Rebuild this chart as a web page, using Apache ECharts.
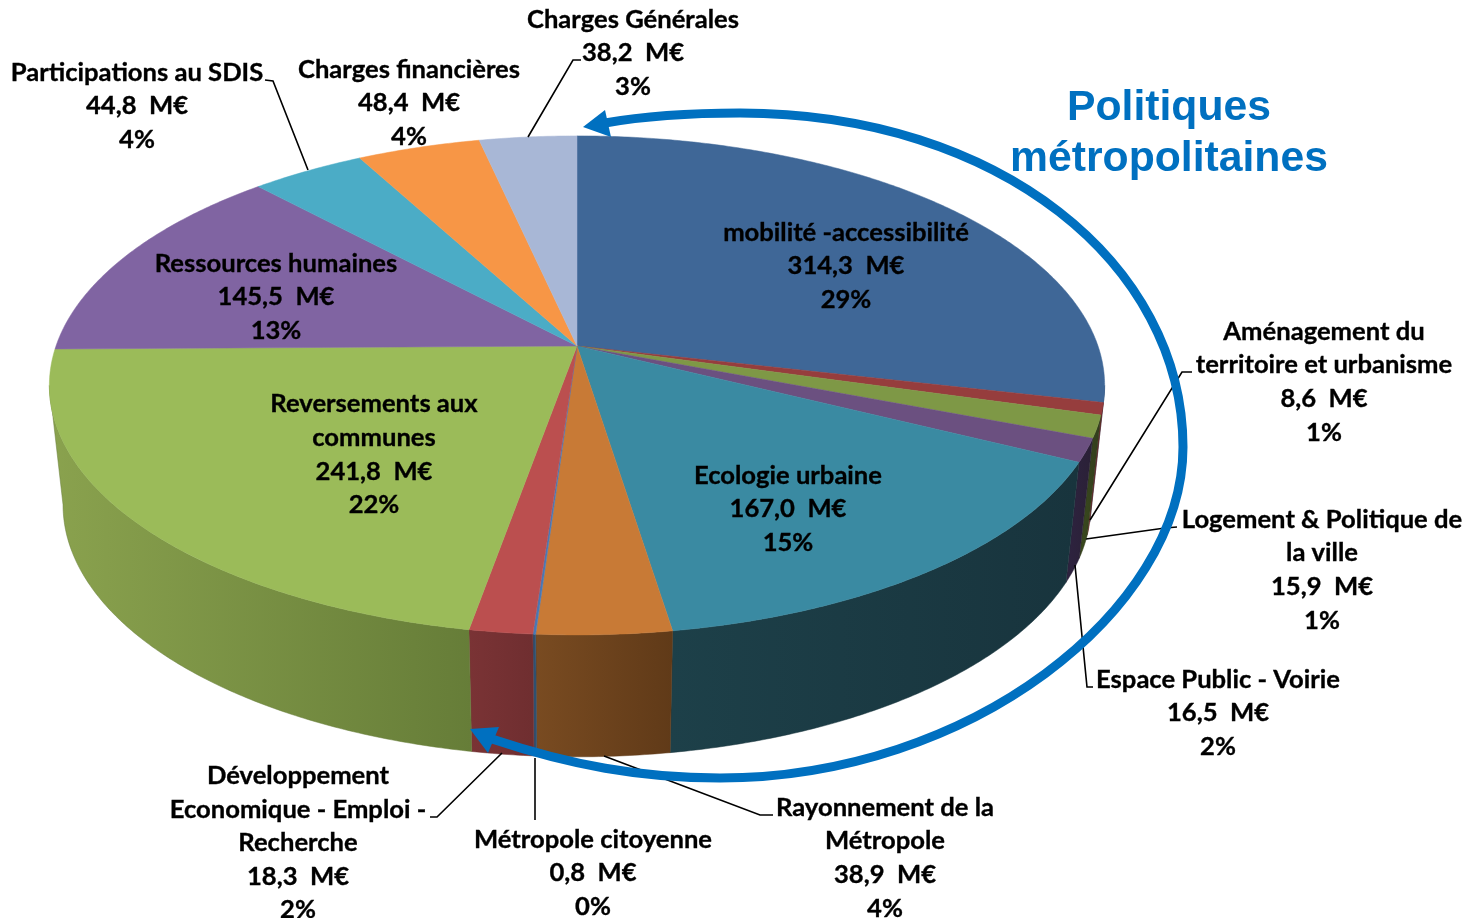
<!DOCTYPE html>
<html><head><meta charset="utf-8">
<style>html,body{margin:0;padding:0;background:#fff}#c{width:1466px;height:918px}</style>
<script src="https://cdn.jsdelivr.net/npm/echarts@6/dist/echarts.min.js"></script>
</head><body><div id="c"></div>
<script>
const categories = ["mobilité -accessibilité","Aménagement du\nterritoire et urbanisme","Logement & Politique de\nla ville","Espace Public - Voirie","Ecologie urbaine","Rayonnement de la\nMétropole","Métropole citoyenne","Développement\nEconomique - Emploi -\nRecherche","Reversements aux\ncommunes","Ressources humaines","Participations au SDIS","Charges financières","Charges Générales"];
const amounts = [314.3,8.6,15.9,16.5,167.0,38.9,0.8,18.3,241.8,145.5,44.8,48.4,38.2];
const percents = [29,1,1,2,15,4,0,2,22,13,4,4,3];
const topColors = ["#3f6797","#963d3d","#7e9846","#6b5080","#3a8aa2","#c87a36","#4a78b4","#bb4f4f","#9bbb59","#8064a2","#4bacc6","#f79646","#a8b7d6"];
const wallLeft = ["#2a4464","#6b2b2b","#3a4a1e","#2e2340","#1d4049","#794b21","#2f5070","#7a3335","#8aa24e","#55426c","#327385","#a5642e","#6f7a90"];
const wallRight = ["#2a4464","#6b2b2b","#323c1c","#2a2036","#18343d","#603a18","#2f5070","#6f2e30","#667d38","#55426c","#327385","#a5642e","#6f7a90"];
const labelCenters = [[846,266],[1324,382],[1322,570],[1218,713],[788,509],[885,858],[593,873],[298,843],[374,454.5],[276,297],[137,106],[409,103],[633,53]];

const total = amounts.reduce((a,b)=>a+b,0);
const starts = []; amounts.reduce((acc,v,i)=>{starts[i]=acc;return acc+v;},0);
const K = 0.158;
const TOP = {cx:577, cy:346, a:521, b:243.3};
const BOTTOM = {cx:577, cy:465, a:507.5, b:245.7};
// rim angles where the side wall meets the outline of the disc
const VIS0 = Math.acos(-K)/(2*Math.PI), VIS1 = 1-VIS0;
function rim(s, frac){
  const t = frac*2*Math.PI, u = Math.sin(t), v = -Math.cos(t), d = 1-K*v;
  return [s.cx+s.a*u/d, s.cy+s.b*v/d];
}
function arcPts(s, f0, f1){
  const n = Math.max(2, Math.ceil((f1-f0)*720)), p = [];
  for(let i=0;i<=n;i++) p.push(rim(s, f0+(f1-f0)*i/n));
  return p;
}
const rows = amounts.map((v,i)=>({value:[v,starts[i],i]}));
function renderWall(p, api){
  const v=api.value(0), st=api.value(1), i=api.value(2);
  const f0=Math.max(st/total,VIS0), f1=Math.min((st+v)/total,VIS1);
  if(f1<=f0) return null;
  const pts=arcPts(TOP,f0,f1).concat(arcPts(BOTTOM,f0,f1).reverse());
  return {type:'polygon',shape:{points:pts},style:{
    fill:new echarts.graphic.LinearGradient(0,0,1,0,[{offset:0,color:wallLeft[i]},{offset:1,color:wallRight[i]}]),
    stroke:wallRight[i],lineWidth:0.5}};
}
function renderTop(p, api){
  const v=api.value(0), st=api.value(1), i=api.value(2);
  const pts=[[TOP.cx,TOP.cy]].concat(arcPts(TOP,st/total,(st+v)/total));
  return {type:'polygon',shape:{points:pts},style:{fill:topColors[i],stroke:topColors[i],lineWidth:0.5}};
}
function renderLabel(p, api){
  const i=api.value(2), v=api.value(0);
  const txt=categories[i]+"\n"+v.toFixed(1).replace('.',',')+"  M€\n"+percents[i]+"%";
  return {type:'text',x:labelCenters[i][0],y:labelCenters[i][1],style:{
    text:txt,align:'center',verticalAlign:'middle',fill:'#000',stroke:'#000',lineWidth:0.35,
    font:'bold 25.6px Lato',lineHeight:33.6}};
}
const leaders = [
 [[528,137],[573,60],[581,60]],
 [[265,80],[273,81],[308,170]],
 [[1192,372],[1182,372],[1090,520]],
 [[1177,527],[1165,528],[1086,539]],
 [[1093,687],[1087,687],[1075,565]],
 [[604,756],[760,815],[773,815]],
 [[535,758],[535,820]],
 [[502,753],[437,817],[430,817]]
];
const ringSegments = [
 [605,123,650,115,690,113,740,113],
 [740,113,1000,113,1183,265,1183,447],
 [1183,447,1183,610,970,778,720,778],
 [720,778,640,778,570,765,492,739]
];
const graphics = leaders.map(pts=>({type:'polyline',z:50,shape:{points:pts},style:{stroke:'#000',lineWidth:1.6,fill:null}}));
ringSegments.forEach(s=>graphics.push({type:'bezierCurve',z:60,
  shape:{x1:s[0],y1:s[1],cpx1:s[2],cpy1:s[3],cpx2:s[4],cpy2:s[5],x2:s[6],y2:s[7]},
  style:{stroke:'#0070c0',lineWidth:9,fill:null}}));
graphics.push({type:'polygon',z:61,shape:{points:[[583,127],[605,110],[611,137]]},style:{fill:'#0070c0'}});
graphics.push({type:'polygon',z:61,shape:{points:[[470,729],[499,727],[488,753]]},style:{fill:'#0070c0'}});
graphics.push({type:'text',z:70,x:1169,y:134,style:{text:'Politiques\nmétropolitaines',align:'center',verticalAlign:'middle',fill:'#0070c0',font:'bold 42.7px "Liberation Sans"',lineHeight:51}});

const chart = echarts.init(document.getElementById('c'),null,{renderer:'canvas'});
chart.setOption({
  animation:false, backgroundColor:'#fff', tooltip:{show:false},
  graphic:graphics,
  series:[
    {type:'custom',coordinateSystem:'none',z:2,silent:true,renderItem:renderWall,data:rows},
    {type:'custom',coordinateSystem:'none',z:3,silent:true,renderItem:renderTop,data:rows},
    {type:'custom',coordinateSystem:'none',z:4,silent:true,renderItem:renderLabel,data:rows}
  ]
});
</script></body></html>
